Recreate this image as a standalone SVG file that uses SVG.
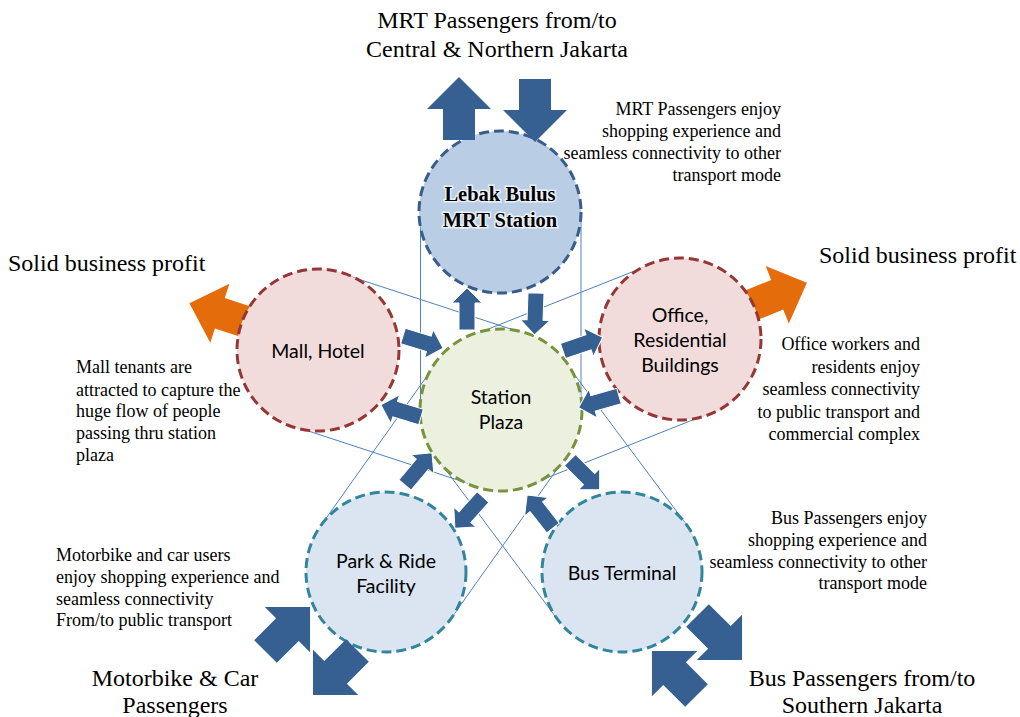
<svg xmlns="http://www.w3.org/2000/svg" xmlns:xlink="http://www.w3.org/1999/xlink" width="1020" height="717" viewBox="0 0 1020 717">
<style>
.bg{fill:#fff}
.tl{stroke:#4f81bd;stroke-width:1;fill:none}
.c{stroke-width:3;stroke-dasharray:10 5}
.mrt{fill:#b9cde5;stroke:#385d8a}
.plz{fill:#ebf1de;stroke:#77933c}
.pink{fill:#f2dcdb;stroke:#953735}
.lb{fill:#dbe5f1;stroke:#31859c}
.blue{fill:#376092;stroke:#fff;stroke-width:1}
.bigb{fill:#376092}
.org{fill:#e46c0a}
.big{font-family:"Liberation Serif",serif;font-size:24px;fill:#000}
.note{font-family:"Liberation Serif",serif;font-size:18px;fill:#000}
.lab{font-family:Lato,"Liberation Sans",sans-serif;font-size:19.5px;fill:#000;text-anchor:middle}
.mrtl{font-family:"Liberation Serif",serif;font-size:20.5px;font-weight:bold;fill:#000;text-anchor:middle;stroke:#fff;stroke-width:3;stroke-opacity:0.7;paint-order:stroke}
.mid{text-anchor:middle}
.end{text-anchor:end}
</style>
<defs>
<path id="am" d="M0,-8 H27 V-15 L42,0 L27,15 V8 H0 Z"/>
<path id="ab" d="M0,-16 H31 V-32 L63,0 L31,32 V16 H0 Z"/>
<path id="ao" d="M0,-16 H38 V-31 L70,0 L38,31 V16 H0 Z"/>
</defs>
<rect class="bg" x="0" y="0" width="1020" height="717"/>

<g id="connectors">
  <g id="tangent-lines">
    <line class="tl" x1="342.9" y1="274" x2="525.9" y2="334"/>
    <line class="tl" x1="293.1" y1="426" x2="476.1" y2="486"/>
    <line class="tl" x1="420.5" y1="212" x2="420.5" y2="410"/>
    <line class="tl" x1="581" y1="212" x2="581" y2="410"/>
    <line class="tl" x1="650.5" y1="264.7" x2="471.5" y2="335.7"/>
    <line class="tl" x1="709.5" y1="413.3" x2="530.5" y2="484.3"/>
    <line class="tl" x1="451.2" y1="618.3" x2="566.2" y2="456.3"/>
    <line class="tl" x1="320.8" y1="525.7" x2="435.8" y2="363.7"/>
    <line class="tl" x1="686.1" y1="524.1" x2="565.1" y2="362.1"/>
    <line class="tl" x1="557.9" y1="619.9" x2="436.9" y2="457.9"/>
  </g>
  <g id="profit-arrows">
    <use href="#ao" class="org" transform="translate(256,325) rotate(198)"/>
    <use href="#ao" class="org" transform="translate(742,309) rotate(-22)"/>
  </g>
</g>

<g id="node-mrt"><circle class="c mrt" cx="500" cy="212" r="81"/></g>
<g id="node-mall"><circle class="c pink" cx="318" cy="350" r="81"/></g>
<g id="node-office"><circle class="c pink" cx="680" cy="339" r="81"/></g>
<g id="node-park"><circle class="c lb" cx="386" cy="572" r="80"/></g>
<g id="node-bus"><circle class="c lb" cx="622" cy="572" r="80"/></g>
<g id="node-plaza"><circle class="c plz" cx="501" cy="410" r="81"/></g>

<g id="flow-arrows">
  <use href="#am" class="blue" transform="translate(467,330) rotate(-90)"/>
  <use href="#am" class="blue" transform="translate(536,293) rotate(92)"/>
  <use href="#am" class="blue" transform="translate(403,336) rotate(17)"/>
  <use href="#am" class="blue" transform="translate(421,417) rotate(197)"/>
  <use href="#am" class="blue" transform="translate(563,351) rotate(-19)"/>
  <use href="#am" class="blue" transform="translate(619,396) rotate(164)"/>
  <use href="#am" class="blue" transform="translate(570,460) rotate(45)"/>
  <use href="#am" class="blue" transform="translate(553,528) rotate(232)"/>
  <use href="#am" class="blue" transform="translate(483,497) rotate(132)"/>
  <use href="#am" class="blue" transform="translate(405,485) rotate(-50)"/>
</g>
<g id="passenger-arrows">
  <use href="#ab" class="bigb" transform="translate(459,140) rotate(-90)"/>
  <use href="#ab" class="bigb" transform="translate(535,79) rotate(90)"/>
  <use href="#ab" class="bigb" transform="translate(265.5,651.5) rotate(-45)"/>
  <use href="#ab" class="bigb" transform="translate(357.5,650.5) rotate(135)"/>
  <use href="#ab" class="bigb" transform="translate(697.5,615.5) rotate(45)"/>
  <use href="#ab" class="bigb" transform="translate(696.5,695.5) rotate(225)"/>
</g>

<g id="labels">
  <text class="mrtl" x="500" y="201">Lebak Bulus</text>
  <text class="mrtl" x="500" y="227">MRT Station</text>
  <text class="lab" x="318" y="358">Mall, Hotel</text>
  <text class="lab" x="680" y="322">Office,</text>
  <text class="lab" x="680" y="347">Residential</text>
  <text class="lab" x="680" y="372">Buildings</text>
  <text class="lab" x="501" y="404">Station</text>
  <text class="lab" x="501" y="429">Plaza</text>
  <text class="lab" x="386" y="568">Park &amp; Ride</text>
  <text class="lab" x="386" y="593">Facility</text>
  <text class="lab" x="622" y="580">Bus Terminal</text>
</g>

<g id="notes">
  <text class="big mid" x="497" y="28">MRT Passengers from/to</text>
  <text class="big mid" x="497" y="57">Central &amp; Northern Jakarta</text>
  <text class="big" x="8" y="271">Solid business profit</text>
  <text class="big" x="819" y="263">Solid business profit</text>
  <text class="big mid" x="175" y="686">Motorbike &amp; Car</text>
  <text class="big mid" x="175" y="713">Passengers</text>
  <text class="big mid" x="862" y="686">Bus Passengers from/to</text>
  <text class="big mid" x="862" y="713">Southern Jakarta</text>

  <text class="note end" x="781" y="115">MRT Passengers enjoy</text>
  <text class="note end" x="781" y="137">shopping experience and</text>
  <text class="note end" x="781" y="159">seamless connectivity to other</text>
  <text class="note end" x="781" y="181">transport mode</text>

  <text class="note" x="76" y="373">Mall tenants are</text>
  <text class="note" x="76" y="396">attracted to capture the</text>
  <text class="note" x="76" y="417">huge flow of people</text>
  <text class="note" x="76" y="439">passing thru station</text>
  <text class="note" x="76" y="461">plaza</text>

  <text class="note end" x="920" y="350">Office workers and</text>
  <text class="note end" x="920" y="373">residents enjoy</text>
  <text class="note end" x="920" y="395">seamless connectivity</text>
  <text class="note end" x="920" y="418">to public transport and</text>
  <text class="note end" x="920" y="440">commercial complex</text>

  <text class="note end" x="927" y="524">Bus Passengers enjoy</text>
  <text class="note end" x="927" y="546">shopping experience and</text>
  <text class="note end" x="927" y="568">seamless connectivity to other</text>
  <text class="note end" x="927" y="589">transport mode</text>

  <text class="note" x="56" y="561">Motorbike and car users</text>
  <text class="note" x="56" y="583">enjoy shopping experience and</text>
  <text class="note" x="56" y="605">seamless connectivity</text>
  <text class="note" x="56" y="626">From/to public transport</text>
</g>
</svg>
